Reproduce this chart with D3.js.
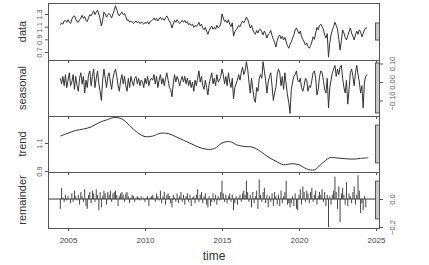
<!DOCTYPE html>
<html>
<head>
<meta charset="utf-8">
<script src="https://cdn.jsdelivr.net/npm/d3@7"></script>
<style>
  body { margin: 0; background: #fff; }
  svg { display: block; font-family: "Liberation Sans", Arial, sans-serif; }
</style>
</head>
<body>
<script>
const W = 429, H = 265;

// monthly series, July 2004 onwards
const startYear = 2004.5;
const dataValues = [
  1.13, 1.16, 1.14, 1.19, 1.20, 1.17, 1.21, 1.17, 1.15, 1.22, 1.26, 1.27,
  1.22, 1.18, 1.17, 1.21, 1.24, 1.28, 1.23, 1.26, 1.20, 1.18, 1.24, 1.29,
  1.27, 1.31, 1.35, 1.29, 1.33, 1.36, 1.30, 1.22, 1.11, 1.20, 1.33, 1.30,
  1.25, 1.29, 1.31, 1.28, 1.24, 1.30, 1.36, 1.43, 1.37, 1.30, 1.27, 1.31,
  1.33, 1.29, 1.31, 1.26, 1.20, 1.21, 1.17, 1.19, 1.18, 1.15, 1.17, 1.19,
  1.16, 1.18, 1.15, 1.17, 1.16, 1.14, 1.17, 1.15, 1.18, 1.14, 1.18, 1.19,
  1.21, 1.24, 1.20, 1.23, 1.19, 1.22, 1.25, 1.21, 1.23, 1.20, 1.24, 1.27,
  1.23, 1.19, 1.15, 1.08, 1.14, 1.20, 1.17, 1.21, 1.18, 1.15, 1.17, 1.20,
  1.17, 1.20, 1.16, 1.18, 1.13, 1.15, 1.12, 1.14, 1.09, 1.12, 1.10, 1.13,
  1.17, 1.11, 1.14, 1.08, 1.05, 1.09, 1.03, 0.98, 1.04, 1.08, 1.11, 1.06,
  1.09, 1.06, 1.12, 1.08, 1.10, 1.14, 1.30, 1.24, 1.18, 1.20, 1.16, 1.21,
  1.14, 1.10, 1.16, 0.95, 1.02, 1.05, 1.08, 1.12, 1.10, 1.15, 1.19, 1.16,
  1.20, 1.25, 1.22, 1.15, 1.08, 1.12, 1.05, 1.01, 0.98, 1.04, 1.00, 1.05,
  1.06, 1.02, 0.97, 1.03, 0.99, 0.92, 0.98, 1.00, 1.04, 0.96, 0.90, 0.85,
  0.78, 0.88, 0.94, 0.97, 0.91, 0.95, 0.89, 0.93, 0.86, 0.80, 0.76, 0.82,
  0.86, 0.92, 0.97, 1.05, 1.08, 1.03, 0.99, 1.03, 0.94, 0.90, 0.86, 0.81,
  0.84, 0.79, 0.76, 0.80, 0.86, 0.94, 0.90, 1.00, 1.09, 1.05, 1.12, 1.14,
  1.10, 1.06, 0.97, 0.92, 0.99, 0.62, 0.85, 0.97, 1.05, 1.10, 1.17, 1.12,
  1.06, 0.90, 0.73, 0.88, 1.05, 1.00, 0.93, 0.89, 0.96, 1.02, 1.08, 1.00,
  0.95, 0.89, 0.97, 1.03, 0.98, 1.05, 1.02, 0.94, 0.99, 1.05, 1.08, 1.08
];
const seasonalValues = [
  0.02, -0.01, 0.03, -0.02, 0.04, -0.03, 0.01, 0.05, -0.02, 0.00, 0.04, -0.04,
  0.03, -0.02, -0.05, 0.02, 0.05, -0.01, 0.03, -0.06, 0.01, -0.03, 0.04, 0.06,
  -0.02, 0.03, 0.07, -0.03, 0.02, 0.06, -0.01, -0.05, -0.10, 0.01, 0.07, 0.02,
  -0.03, 0.03, 0.05, 0.00, -0.04, 0.02, 0.05, 0.07, 0.03, -0.02, -0.05, 0.01,
  0.04, -0.01, 0.03, -0.02, -0.05, 0.02, -0.03, 0.03, 0.00, -0.02, 0.02, 0.03,
  -0.01, 0.02, -0.02, 0.01, 0.00, -0.03, 0.02, -0.01, 0.03, -0.02, 0.01, 0.02,
  0.01, 0.04, -0.01, 0.03, -0.03, 0.01, 0.04, -0.01, 0.02, -0.02, 0.02, 0.05,
  0.01, -0.03, -0.04, -0.08, -0.01, 0.04, 0.00, 0.03, 0.01, -0.02, 0.01, 0.03,
  0.00, 0.03, -0.01, 0.02, -0.02, 0.01, -0.03, 0.00, -0.05, 0.01, -0.02, 0.02,
  0.06, 0.00, 0.03, -0.02, -0.04, 0.01, -0.03, -0.07, -0.01, 0.02, 0.05, -0.01,
  0.02, -0.02, 0.04, 0.00, 0.01, 0.03, 0.07, 0.04, -0.01, 0.03, -0.02, 0.05,
  0.00, -0.03, 0.02, -0.09, -0.03, -0.01, 0.01, 0.04, 0.01, 0.05, 0.08, 0.04,
  0.06, 0.11, 0.07, 0.00, -0.06, 0.02, -0.04, -0.09, -0.11, -0.03, -0.05, 0.02,
  0.04, 0.02, 0.11, 0.06, 0.01, -0.06, 0.00, 0.03, 0.05, -0.02, -0.10, -0.06,
  -0.03, 0.04, 0.07, 0.05, -0.02, 0.03, -0.04, 0.05, -0.01, -0.07, -0.11, -0.17,
  -0.04, 0.00, 0.03, 0.04, 0.06, 0.01, 0.00, 0.02, -0.03, -0.05, -0.02, 0.02,
  0.01, -0.05, -0.02, -0.03, 0.01, 0.05, 0.06, 0.02, -0.07, -0.04, 0.03, 0.06,
  0.05, 0.01, -0.04, -0.06, 0.02, -0.14, -0.03, 0.01, 0.05, 0.07, 0.09, 0.03,
  0.07, 0.04, 0.08, 0.09, 0.02, -0.03, -0.06, 0.01, -0.12, -0.04, 0.05, 0.07,
  0.03, -0.02, 0.05, 0.09, 0.04, 0.00, -0.06, -0.02, -0.14, 0.00, 0.03, 0.04
];
const remainderValues = [
  -0.07, 0.08, 0.01, -0.02, 0.03, -0.01, 0.02, 0.00, -0.03, 0.04, -0.02, 0.06,
  0.02, -0.01, 0.03, -0.04, 0.05, 0.02, -0.02, 0.07, -0.05, -0.07, 0.03, 0.05,
  -0.03, 0.06, 0.04, -0.02, 0.07, 0.03, -0.08, 0.05, -0.06, 0.02, 0.06, 0.04,
  -0.04, 0.05, 0.03, 0.06, -0.02, 0.04, 0.05, 0.06, 0.03, -0.05, 0.02, 0.04,
  0.05, 0.03, -0.02, 0.04, 0.05, 0.02, -0.03, 0.01, 0.03, 0.02, -0.02, 0.01,
  0.02, 0.01, -0.01, 0.02, 0.00, 0.01, -0.02, 0.01, 0.02, -0.05, 0.01, 0.02,
  0.03, 0.01, -0.02, 0.04, 0.02, -0.01, 0.06, -0.03, 0.02, 0.05, -0.04, 0.03,
  0.04, 0.02, -0.03, -0.06, 0.03, 0.01, -0.02, 0.04, -0.03, 0.02, 0.05, -0.02,
  0.03, -0.04, 0.02, 0.04, -0.02, 0.03, -0.05, 0.01, 0.02, -0.03, 0.03, 0.07,
  -0.02, 0.03, 0.05, -0.03, 0.02, 0.04, -0.04, -0.06, 0.02, -0.05, -0.02, 0.04,
  -0.02, 0.03, -0.04, 0.02, -0.01, 0.05, 0.13, 0.04, -0.02, 0.03, -0.03, 0.02,
  0.04, -0.02, 0.03, -0.08, -0.03, 0.02, -0.04, 0.01, 0.03, -0.02, 0.04, 0.06,
  0.03, 0.13, 0.05, -0.02, 0.03, -0.06, 0.05, -0.03, 0.02, 0.06, -0.07, 0.14,
  0.03, -0.02, 0.05, 0.08, -0.03, 0.03, -0.06, 0.02, -0.02, 0.04, -0.05, 0.05,
  0.02, -0.04, 0.03, -0.05, 0.06, -0.03, 0.02, 0.05, 0.13, -0.04, -0.03, -0.06,
  -0.03, 0.02, -0.05, 0.04, -0.07, -0.08, 0.03, 0.07, -0.04, 0.09, 0.05, -0.02,
  0.06, 0.04, -0.03, 0.05, 0.08, -0.02, 0.03, 0.06, -0.04, 0.02, 0.05, 0.03,
  0.07, -0.02, 0.05, -0.05, 0.03, -0.20, 0.02, -0.04, 0.03, 0.06, 0.16, 0.05,
  -0.07, 0.09, -0.165, 0.04, 0.08, 0.03, -0.04, 0.12, -0.05, 0.04, 0.02, -0.03,
  0.05, 0.09, -0.04, 0.03, 0.17, 0.06, -0.10, -0.03, -0.08, 0.02, -0.06, 0.00
];
// trend read every half year
const trendYears = d3.range(41).map(i => 2004.5 + i / 2);
const trendValues = [
  1.15, 1.17, 1.19, 1.20, 1.215, 1.245, 1.265, 1.282, 1.272, 1.225,
  1.175, 1.146, 1.150, 1.170, 1.168, 1.145, 1.120, 1.095, 1.070, 1.055,
  1.060, 1.100, 1.110, 1.085, 1.075, 1.070, 1.040, 1.000, 0.970, 0.945,
  0.952, 0.945, 0.915, 0.908, 0.955, 0.995, 0.993, 0.988, 0.985, 0.990,
  0.995
];
const yearTicks = [2005, 2010, 2015, 2020, 2025];

const panels = [
  { name: "data", top: 3, bottom: 60, domain: [0.574, 1.474], ticks: [0.7, 0.9, 1.1, 1.3], fmt: ".1f", side: "left" },
  { name: "seasonal", top: 60, bottom: 116, domain: [-0.184, 0.119], ticks: [-0.10, 0.00, 0.10], fmt: ".2f", side: "right" },
  { name: "trend", top: 116, bottom: 172, domain: [0.893, 1.293], ticks: [0.9, 1.1], fmt: ".1f", side: "left" },
  { name: "remainder", top: 172, bottom: 228, domain: [-0.207, 0.193], ticks: [-0.2, 0.0], fmt: ".1f", side: "right" }
];

const left = 48, right = 380;
const x = d3.scaleLinear().domain([2003.7, 2025.26]).range([left, right]);
const monthT = i => startYear + i / 12;

const svg = d3.select("body").append("svg")
  .attr("width", W)
  .attr("height", H);

panels.forEach(p => {
  p.y = d3.scaleLinear().domain(p.domain).range([p.bottom, p.top]);
});

const lineCol = "#333";

// data
const pd = panels[0];
svg.append("path")
  .datum(dataValues)
  .attr("fill", "none")
  .attr("stroke", lineCol)
  .attr("stroke-width", 1)
  .attr("d", d3.line().x((d, i) => x(monthT(i))).y(d => pd.y(d)));

// seasonal
const ps = panels[1];
svg.append("path")
  .datum(seasonalValues)
  .attr("fill", "none")
  .attr("stroke", lineCol)
  .attr("stroke-width", 1)
  .attr("d", d3.line().x((d, i) => x(monthT(i))).y(d => ps.y(d)));

// trend
const pt = panels[2];
svg.append("path")
  .datum(trendValues)
  .attr("fill", "none")
  .attr("stroke", lineCol)
  .attr("stroke-width", 1)
  .attr("d", d3.line().curve(d3.curveCatmullRom)
    .x((d, i) => x(trendYears[i])).y(d => pt.y(d)));

// remainder, drawn as spikes from zero
const pr = panels[3];
svg.append("line")
  .attr("x1", left).attr("x2", right)
  .attr("y1", pr.y(0)).attr("y2", pr.y(0))
  .attr("stroke", lineCol);
svg.append("g").selectAll("line")
  .data(remainderValues)
  .join("line")
  .attr("x1", (d, i) => x(monthT(i)))
  .attr("x2", (d, i) => x(monthT(i)))
  .attr("y1", pr.y(0))
  .attr("y2", d => pr.y(d))
  .attr("stroke", "#444")
  .attr("stroke-width", 1);

const barHalf = 0.135;

panels.forEach((p, k) => {
  // panel box
  svg.append("rect")
    .attr("x", left + 0.5).attr("y", p.top + 0.5)
    .attr("width", right - left - 1).attr("height", p.bottom - p.top)
    .attr("fill", "none").attr("stroke", "#555");

  // range bar on the right
  const mid = (p.domain[0] + p.domain[1]) / 2;
  svg.append("rect")
    .attr("x", 375.5)
    .attr("y", p.y(mid + barHalf))
    .attr("width", 4)
    .attr("height", p.y(mid - barHalf) - p.y(mid + barHalf))
    .attr("fill", "#c8c8c8")
    .attr("stroke", "#555");

  // y axis
  const ax = p.side === "left" ? d3.axisLeft(p.y) : d3.axisRight(p.y);
  const g = svg.append("g")
    .attr("transform", `translate(${p.side === "left" ? left : right},0)`)
    .call(ax.tickValues(p.ticks).tickSize(3).tickFormat(d3.format(p.fmt)));
  g.select(".domain").remove();
  g.selectAll(".tick line").attr("stroke", "#555");
  g.selectAll(".tick text")
    .attr("transform", "rotate(-90)")
    .attr("x", 0)
    .attr("dy", 0)
    .attr("y", p.side === "left" ? -6 : 15)
    .attr("text-anchor", "middle")
    .attr("font-size", 7.5)
    .attr("fill", "#555");

  // bottom ticks of every panel, labels only on the last
  const bx = svg.append("g")
    .attr("transform", `translate(0,${p.bottom})`)
    .call(d3.axisBottom(x).tickValues(yearTicks).tickSize(3)
      .tickFormat(k === panels.length - 1 ? d3.format("d") : () => ""));
  bx.select(".domain").remove();
  bx.selectAll(".tick line").attr("stroke", "#555");
  bx.selectAll(".tick text")
    .attr("y", 9)
    .attr("font-size", 8)
    .attr("fill", "#444");

  // panel label
  svg.append("text")
    .attr("transform", `translate(26,${(p.top + p.bottom) / 2}) rotate(-90)`)
    .attr("text-anchor", "middle")
    .attr("font-size", 11)
    .attr("fill", "#333")
    .text(p.name);
});

svg.append("text")
  .attr("x", 214).attr("y", 260)
  .attr("text-anchor", "middle")
  .attr("font-size", 12)
  .attr("fill", "#333")
  .text("time");
</script>
</body>
</html>
